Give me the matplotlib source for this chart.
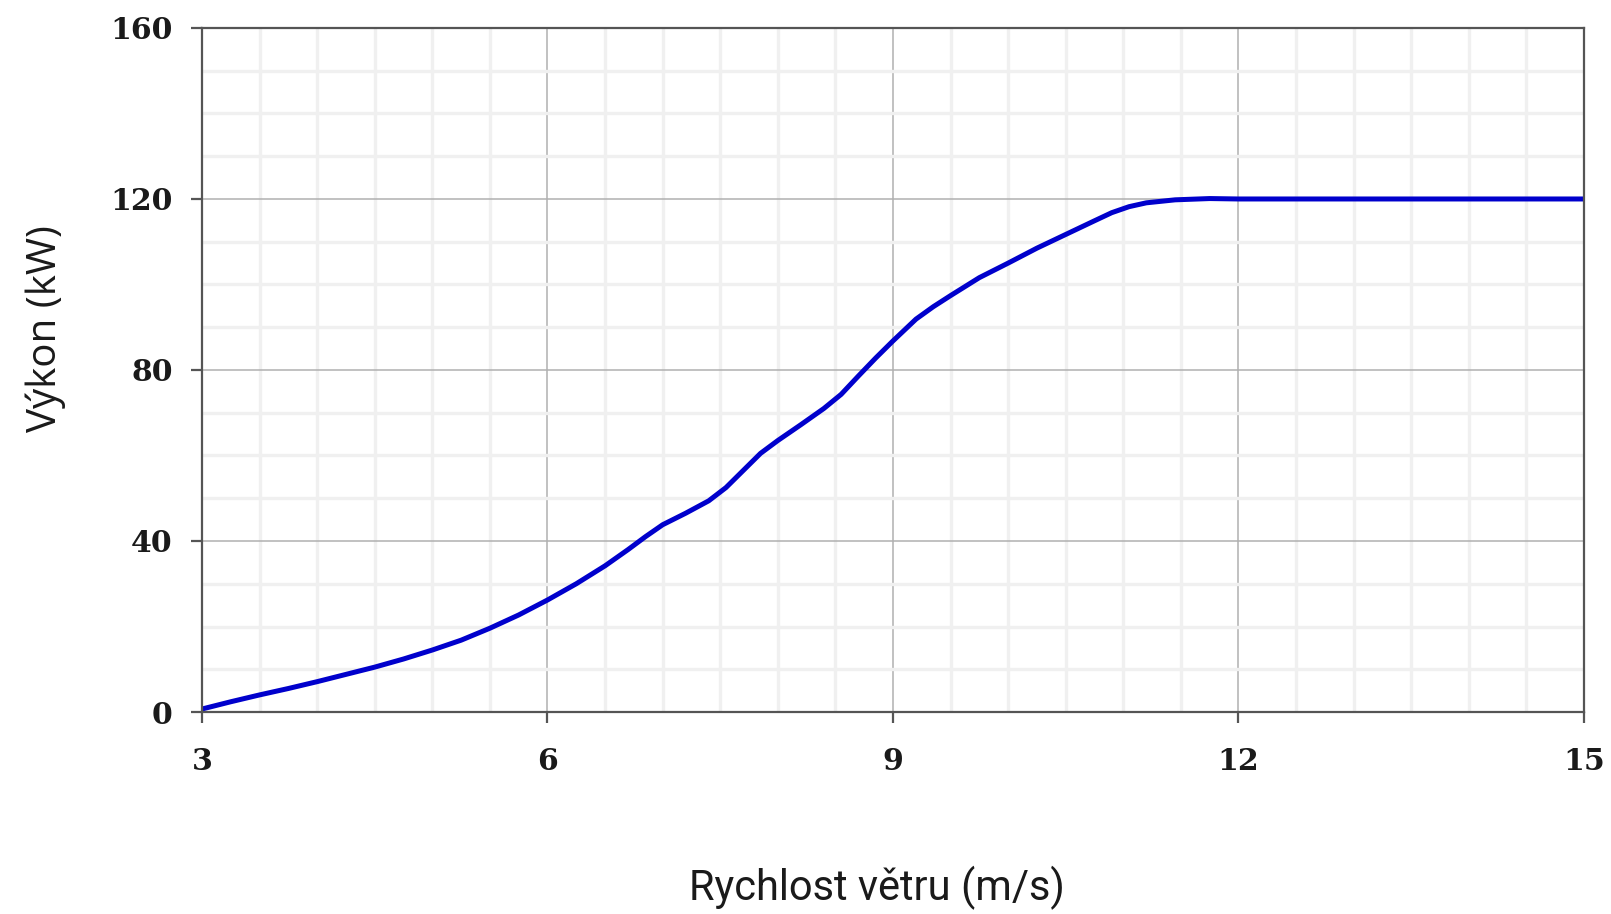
import matplotlib

matplotlib.use("Agg")
import matplotlib.pyplot as plt
from matplotlib.ticker import MultipleLocator

LINE_COLOR = "#0000cc"
SPINE_COLOR = "#555555"
MAJOR_GRID_COLOR = "#b0b0b0"
MINOR_GRID_COLOR = "#f0f0f0"
TEXT_COLOR = "#1a1a1a"

# wind speed (m/s) and power (kW)
windSpeed = [
    3.0, 3.25, 3.5, 3.75, 4.0, 4.25, 4.5, 4.75, 5.0, 5.25, 5.5, 5.75,
    6.0, 6.25, 6.5, 6.7, 6.85, 7.0, 7.2, 7.4, 7.55, 7.7, 7.85, 8.0,
    8.2, 8.4, 8.55, 8.7, 8.85, 9.0, 9.2, 9.35, 9.5, 9.75, 10.0, 10.25,
    10.5, 10.75, 10.9, 11.05, 11.2, 11.45, 11.75, 12.0, 13.0, 14.0, 15.0,
]
power = [
    0.7, 2.4, 4.0, 5.5, 7.1, 8.8, 10.5, 12.4, 14.5, 16.8, 19.6, 22.7,
    26.2, 30.0, 34.2, 38.0, 41.0, 43.8, 46.5, 49.4, 52.5, 56.5, 60.5, 63.5,
    67.2, 71.0, 74.3, 78.6, 82.8, 86.8, 91.9, 94.8, 97.4, 101.6, 105.0, 108.5,
    111.7, 114.9, 116.8, 118.2, 119.1, 119.8, 120.1, 120.0, 120.0, 120.0, 120.0,
]
xTicks = [3, 6, 9, 12, 15]
yTicks = [0, 40, 80, 120, 160]


# Applies the spine, tick and grid styling.
def _styleAx(ax):
    for spine in ax.spines.values():
        spine.set_color(SPINE_COLOR)
        spine.set_linewidth(1.6)
    ax.xaxis.set_minor_locator(MultipleLocator(0.5))
    ax.yaxis.set_minor_locator(MultipleLocator(10))
    ax.grid(which="minor", color=MINOR_GRID_COLOR, linewidth=2.4)
    ax.grid(which="major", color=MAJOR_GRID_COLOR, linewidth=1.1)
    ax.set_axisbelow(True)
    ax.tick_params(
        which="major",
        direction="out",
        length=8,
        width=1.6,
        color=SPINE_COLOR,
    )
    ax.tick_params(axis="x", which="major", pad=17)
    ax.tick_params(axis="y", which="major", pad=13)
    ax.tick_params(which="minor", length=0)
    for label in ax.get_xticklabels() + ax.get_yticklabels():
        label.set_fontfamily("DejaVu Serif")
        label.set_fontweight("bold")
        label.set_fontsize(21.5)
        label.set_color(TEXT_COLOR)


fig = plt.figure(figsize=(16.11, 9.14), dpi=100)
fig.patch.set_facecolor("white")
ax = fig.add_axes([0.1254, 0.2210, 0.8578, 0.7484])

ax.plot(
    windSpeed,
    power,
    color=LINE_COLOR,
    linewidth=3.6,
    solid_capstyle="round",
    solid_joinstyle="round",
)
ax.set_xlim(3, 15)
ax.set_ylim(0, 160)
ax.set_xticks(xTicks)
ax.set_yticks(yTicks)
_styleAx(ax)

fig.text(
    877 / 1611,
    1 - 900 / 914,
    "Rychlost větru (m/s)",
    fontfamily="Roboto",
    fontsize=30,
    color=TEXT_COLOR,
    ha="center",
    va="baseline",
)
fig.text(
    46 / 1611,
    1 - 329 / 914,
    "Výkon (kW)",
    fontfamily="Open Sans",
    fontsize=29,
    color=TEXT_COLOR,
    rotation=90,
    ha="center",
    va="center",
)

fig.savefig("out.png", dpi=100, facecolor="white")
plt.close(fig)
